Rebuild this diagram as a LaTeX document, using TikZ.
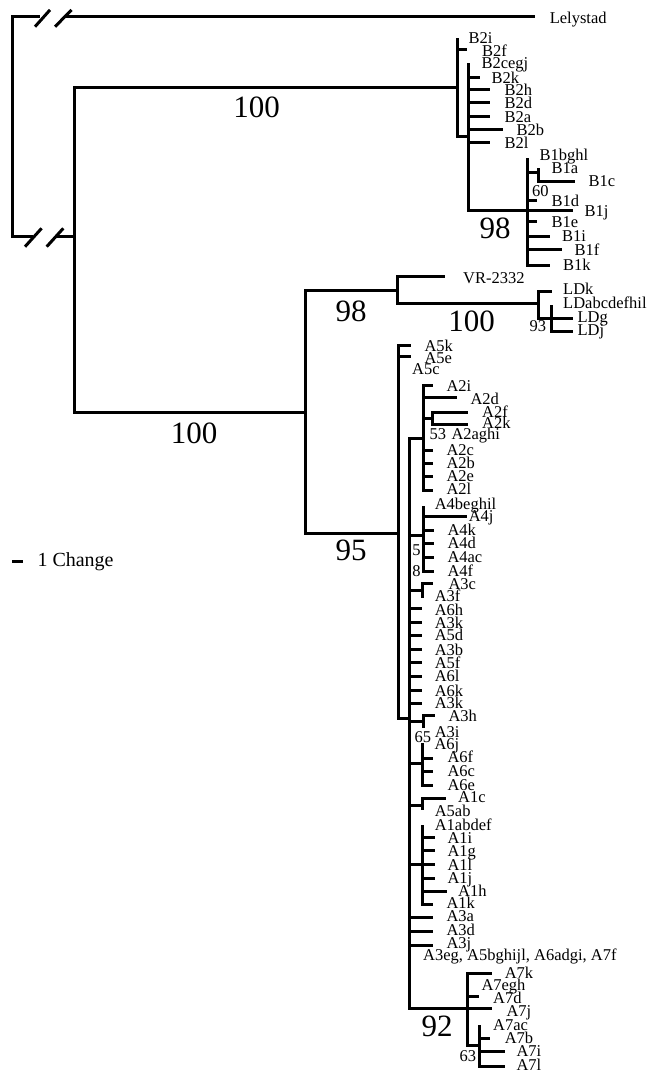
\documentclass[tikz,border=0pt]{standalone}
\usepackage{fontspec}
\setmainfont{Liberation Serif}
\usetikzlibrary{calc}
\tikzset{
  lab/.style={anchor=base west, inner sep=0pt, font=\fontsize{16.5}{18}\selectfont},
  bignum/.style={anchor=base, inner sep=0pt, font=\fontsize{31}{34}\selectfont},
  brk/.style={line width=3pt},
}
% parent, name, tip point, label base point, text
\newcommand\tipx[5]{\coordinate (t#2) at (#3); \node[lab] (l#2) at (#4) {#5}; \draw (#1) |- (t#2);}
\begin{document}
\begin{tikzpicture}[x=1pt, y=-1pt, line width=3pt]
\useasboundingbox (0,0) rectangle (652,1075);
% ---------- root with breaks ----------
\coordinate (root) at (12,127);
\coordinate (bkT1) at (40,17);
\coordinate (bkT2) at (64,17);
\coordinate (tLely) at (535,17);
\draw (root) |- (bkT1);
\draw (bkT2) -- (tLely);
\node[lab] (lLely) at (548.3,24) {Lelystad};
\coordinate (sT1) at (42.5,18.3);
\coordinate (sT2) at (63.3,18.3);
\draw[brk] ($(sT1)+(-7.5,8.4)$) -- ($(sT1)+(7.5,-8.4)$);
\draw[brk] ($(sT2)+(-8.3,8.4)$) -- ($(sT2)+(8.3,-8.4)$);
\coordinate (bkB1) at (33,237);
\coordinate (bkB2) at (55,237);
\coordinate (nB) at (74,237);
\draw (root) |- (bkB1);
\draw (bkB2) -- (nB);
\coordinate (sB1) at (33.3,237.5);
\coordinate (sB2) at (55,237.5);
\draw[brk] ($(sB1)+(-8.3,9.2)$) -- ($(sB1)+(8.3,-9.2)$);
\draw[brk] ($(sB2)+(-8.3,9.2)$) -- ($(sB2)+(8.3,-9.2)$);
% ---------- B clade ----------
\coordinate (nBB) at (457,88);
\coordinate (nB2) at (468,137);
\coordinate (nB1) at (527,211);
\coordinate (nB1ac) at (538,173);
\draw (nB) |- (nBB);
\node[bignum] (s100a) at (256.7,117.2) {100};
\tipx{nBB}{B2i}{457,38}{467,43.5}{B2i}
\tipx{nBB}{B2f}{467,50}{480.7,56.5}{B2f}
\draw (nBB) |- (nB2);
\tipx{nB2}{B2cegj}{468,63}{480,69}{B2cegj}
\tipx{nB2}{B2k}{480,77.3}{490,83.3}{B2k}
\tipx{nB2}{B2h}{490,90}{503,96}{B2h}
\tipx{nB2}{B2d}{490,102.7}{503,108.7}{B2d}
\tipx{nB2}{B2a}{490,116.7}{503,122.5}{B2a}
\tipx{nB2}{B2b}{503,129.3}{515,135.3}{B2b}
\tipx{nB2}{B2l}{490,142.7}{503,148.5}{B2l}
\draw (nB2) |- (nB1);
\node[bignum] (s98a) at (495,238.4) {98};
\tipx{nB1}{B1bghl}{527,158}{538,160.5}{B1bghl}
\draw (nB1) |- (nB1ac);
\tipx{nB1ac}{B1a}{538,168}{550,173.5}{B1a}
\tipx{nB1ac}{B1c}{575,181.7}{587,187}{B1c}
\node[lab] (s60) at (530.7,196.7) {60};
\tipx{nB1}{B1d}{537,201}{550,207}{B1d}
\tipx{nB1}{B1j}{573,211}{583,216.5}{B1j}
\tipx{nB1}{B1e}{537,221.7}{550,227.5}{B1e}
\tipx{nB1}{B1i}{550,236.7}{560.7,242}{B1i}
\tipx{nB1}{B1f}{561.7,249}{573,255}{B1f}
\tipx{nB1}{B1k}{550,265}{561.7,270.5}{B1k}
% ---------- VR / LD ----------
\coordinate (nALL) at (305,412);
\coordinate (nVL) at (397,290);
\coordinate (nLD) at (538,303.3);
\coordinate (nLD2) at (551.7,318.3);
\draw (nB) |- (nALL);
\node[bignum] (s100b) at (194,443.5) {100};
\draw (nALL) |- (nVL);
\node[bignum] (s98b) at (351,321.5) {98};
\tipx{nVL}{VR}{445,276.7}{461.7,283}{VR-2332}
\draw (nVL) |- (nLD);
\node[bignum] (s100c) at (471.5,331.7) {100};
\tipx{nLD}{LDk}{551.7,291.7}{561.7,294.5}{LDk}
\draw (nLD) |- (nLD2);
\tipx{nLD2}{LDabc}{551.7,305}{561.7,308.5}{LDabcdefhil}
\tipx{nLD2}{LDg}{573.3,318.3}{576,322.5}{LDg}
\tipx{nLD2}{LDj}{573.3,331.7}{576,335.5}{LDj}
\node[lab] (s93) at (528,331.7) {93};
% ---------- A clade ----------
\coordinate (nA) at (398,533);
\coordinate (nAm) at (409,718.3);
\draw (nALL) |- (nA);
\node[bignum] (s95) at (351,560) {95};
\tipx{nA}{A5k}{410.7,345}{423,351.5}{A5k}
\tipx{nA}{A5e}{410.7,356.7}{423,363}{A5e}
\tipx{nA}{A5c}{398,368}{410.7,374}{A5c}
\draw (nA) |- (nAm);
% A2
\coordinate (nA2) at (423.3,438.3);
\coordinate (nA2fk) at (432.7,418.3);
\draw (nAm) |- (nA2);
\tipx{nA2}{A2i}{433.3,385}{445,391.5}{A2i}
\tipx{nA2}{A2d}{456.7,397}{469,404}{A2d}
\draw (nA2) |- (nA2fk);
\tipx{nA2fk}{A2f}{468,412}{480.7,417}{A2f}
\tipx{nA2fk}{A2k}{468,424.3}{480.7,428.5}{A2k}
\node[lab] (s53) at (428,439.5) {53};
\tipx{nA2}{A2aghi}{423.3,438.3}{450,439.5}{A2aghi}
\tipx{nA2}{A2c}{433.3,450}{445,455}{A2c}
\tipx{nA2}{A2b}{433.3,463.3}{445,468.3}{A2b}
\tipx{nA2}{A2e}{433.3,476.7}{445,481.7}{A2e}
\tipx{nA2}{A2l}{433.3,490}{445,494.5}{A2l}
% A4
\coordinate (nA4) at (423.3,535);
\draw (nAm) |- (nA4);
\tipx{nA4}{A4beghil}{423.3,506}{433.3,509.3}{A4beghil}
\tipx{nA4}{A4j}{466.7,516.7}{467.3,521.7}{A4j}
\tipx{nA4}{A4k}{434.3,530}{446,535}{A4k}
\tipx{nA4}{A4d}{434.3,543.3}{446,548.3}{A4d}
\tipx{nA4}{A4ac}{434.3,557.7}{446,562.7}{A4ac}
\tipx{nA4}{A4f}{434.3,571}{446,576}{A4f}
\node[lab, anchor=base] (s5) at (416.5,555) {5};
\node[lab, anchor=base] (s8) at (416.5,576) {8};
% A3c/f
\coordinate (nA3cf) at (422.3,590);
\draw (nAm) |- (nA3cf);
\tipx{nA3cf}{A3c}{433.3,583.3}{447,589.3}{A3c}
\tipx{nA3cf}{A3f}{422.3,598.3}{433.3,601.7}{A3f}
% single tips
\tipx{nAm}{A6h}{422.3,608.6}{433.3,615}{A6h}
\tipx{nAm}{A3ka}{422.3,622.3}{433.3,628.3}{A3k}
\tipx{nAm}{A5d}{422.3,635}{433.3,640.7}{A5d}
\tipx{nAm}{A3b}{422.3,649.3}{433.3,655}{A3b}
\tipx{nAm}{A5f}{422.3,662.7}{433.3,668.3}{A5f}
\tipx{nAm}{A6l}{422.3,676}{433.3,681.7}{A6l}
\tipx{nAm}{A6k}{422.3,690}{433.3,696}{A6k}
\tipx{nAm}{A3kb}{422.3,703}{433.3,708.3}{A3k}
% A3h/i
\coordinate (nA3h) at (423.3,721.7);
\draw (nAm) |- (nA3h);
\tipx{nA3h}{A3h}{435,715.5}{447,721.7}{A3h}
\tipx{nA3h}{A3i}{423.3,728}{433.3,737.3}{A3i}
\node[lab] (s65) at (413,742.7) {65};
% A6
\coordinate (nA6) at (422.3,763.3);
\draw (nAm) |- (nA6);
\tipx{nA6}{A6j}{422.3,743.3}{433,749.3}{A6j}
\tipx{nA6}{A6f}{433.3,758.3}{446,762.7}{A6f}
\tipx{nA6}{A6c}{433.3,771.7}{446,776.7}{A6c}
\tipx{nA6}{A6e}{433.3,785}{446,790}{A6e}
% A1c / A5ab
\coordinate (nA1c) at (422.3,805);
\draw (nAm) |- (nA1c);
\tipx{nA1c}{A1c}{446,798.3}{456.7,802.7}{A1c}
\tipx{nA1c}{A5ab}{422.3,810}{433.3,816.7}{A5ab}
% A1
\coordinate (nA1) at (422.3,864);
\draw (nAm) |- (nA1);
\tipx{nA1}{A1abdef}{422.3,825}{433.3,830}{A1abdef}
\tipx{nA1}{A1i}{435,837.3}{446,843.3}{A1i}
\tipx{nA1}{A1g}{435,850.7}{446,856.7}{A1g}
\tipx{nA1}{A1l}{435,864}{446,870}{A1l}
\tipx{nA1}{A1j}{435,878.3}{446,883.3}{A1j}
\tipx{nA1}{A1h}{446.7,891.7}{456.7,896.7}{A1h}
\tipx{nA1}{A1k}{433.3,904.3}{445,908.5}{A1k}
% A3a/d/j and polytomy label
\tipx{nAm}{A3a}{433.3,917.7}{445,921.7}{A3a}
\tipx{nAm}{A3d}{433.3,931}{445,935}{A3d}
\tipx{nAm}{A3j}{433.3,945}{445,948.3}{A3j}
\tipx{nAm}{A3eg}{409,956.7}{421.7,960.5}{A3eg, A5bghijl, A6adgi, A7f}
% A7
\coordinate (nA7) at (467.3,1008.3);
\coordinate (nA7b) at (479.3,1045);
\draw (nAm) |- (nA7);
\node[bignum] (s92) at (437,1036.7) {92};
\tipx{nA7}{A7k}{491.7,973.3}{503.3,978.3}{A7k}
\tipx{nA7}{A7egh}{467.3,985}{480,990}{A7egh}
\tipx{nA7}{A7d}{479.3,996}{491.7,1003.3}{A7d}
\tipx{nA7}{A7j}{491.7,1008.3}{505,1016.7}{A7j}
\draw (nA7) |- (nA7b);
\tipx{nA7b}{A7ac}{479.3,1025}{491.7,1030}{A7ac}
\tipx{nA7b}{A7b}{490,1038.3}{503.3,1043.3}{A7b}
\tipx{nA7b}{A7i}{505,1051.7}{515,1056.7}{A7i}
\tipx{nA7b}{A7l}{505,1066.7}{515,1070}{A7l}
\node[lab] (s63) at (458,1061.7) {63};
% ---------- scale ----------
\coordinate (sb1) at (12.3,561.7);
\coordinate (sb2) at (23.3,561.7);
\draw[line width=3.3pt] (sb1) -- (sb2);
\node[anchor=base west, inner sep=0pt, font=\fontsize{20}{22}\selectfont] (lscale) at (36,566) {1 Change};
\end{tikzpicture}
\end{document}
